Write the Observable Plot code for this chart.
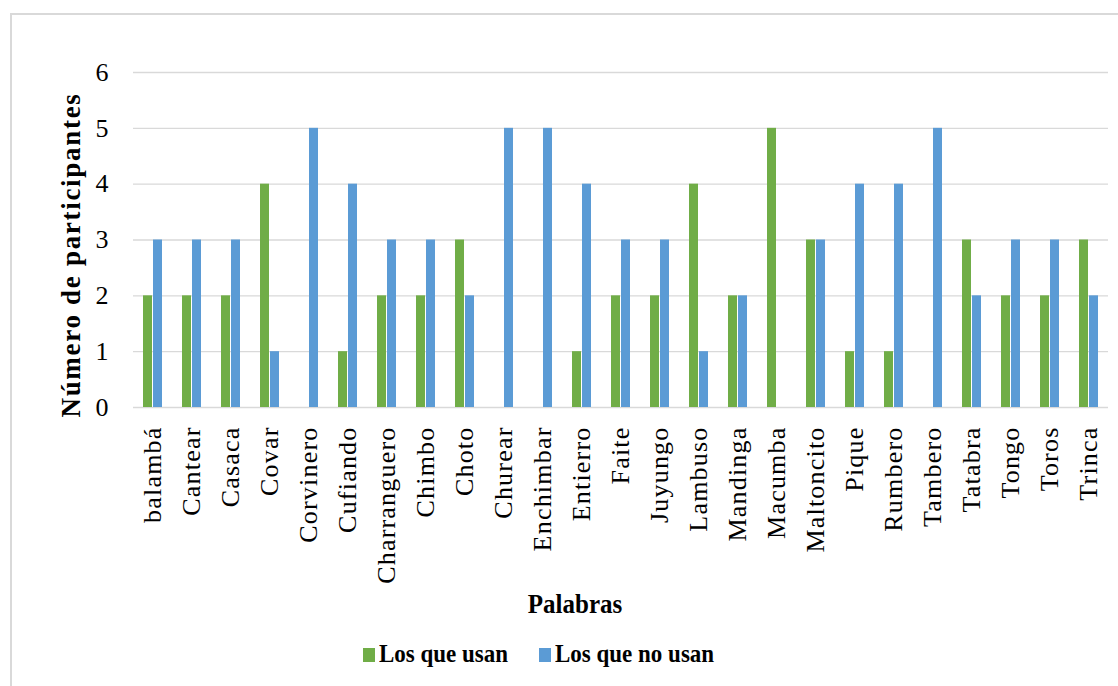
<!DOCTYPE html>
<html>
<head>
<meta charset="utf-8">
<script src="https://cdn.jsdelivr.net/npm/d3@7"></script>
<script src="https://cdn.jsdelivr.net/npm/@observablehq/plot@0.6"></script>
<style>
  body { margin: 0; background: #fff; font-family: "Liberation Serif", "Times New Roman", serif; color: #000; }
  #wrap { position: relative; width: 1118px; height: 686px; overflow: hidden; }
  #frame { position: absolute; left: 10px; top: 13px; width: 1130px; height: 700px;
           border-left: 2px solid #d9d9d9; border-top: 2px solid #d9d9d9; }
  #chart { position: absolute; left: 0; top: 0; }
  #ytitle { position: absolute; left: 71px; top: 255px; transform: translate(-50%, -50%) rotate(-90deg);
            font-weight: bold; font-size: 27px; letter-spacing: 1.7px; white-space: nowrap; }
  #xtitle { position: absolute; left: 575px; top: 591px; transform: translateX(-50%) scaleY(1.12);
            font-weight: bold; font-size: 25px; line-height: 25px; white-space: nowrap; }
  .leg { position: absolute; top: 643px; font-weight: bold; font-size: 23px; line-height: 23px; white-space: nowrap; }
  .sw { position: absolute; top: 5px; left: 0; width: 12px; height: 14px; }
  .leg span.t { position: absolute; left: 16px; top: 0; transform: scaleY(1.12); transform-origin: 0 70%; }
  g[aria-label="fx-axis tick label"] text { letter-spacing: 1.2px; }
</style>
</head>
<body>
<div id="wrap">
  <div id="frame"></div>
  <div id="chart"></div>
  <div id="ytitle"></div>
  <div id="xtitle"></div>
  <div id="leg1" class="leg"></div>
  <div id="leg2" class="leg"></div>
</div>
<script>
const words = ["balambá","Cantear","Casaca","Covar","Corvinero","Cufiando","Charranguero","Chimbo","Choto","Churear","Enchimbar","Entierro","Faite","Juyungo","Lambuso","Mandinga","Macumba","Maltoncito","Pique","Rumbero","Tambero","Tatabra","Tongo","Toros","Trinca"];
const usan    = [2,2,2,4,0,1,2,2,3,0,0,1,2,2,4,2,5,3,1,1,0,3,2,2,3];
const noUsan  = [3,3,3,1,5,4,3,3,2,5,5,4,3,3,1,2,0,3,4,4,5,2,3,3,2];
const seriesNames = ["Los que usan", "Los que no usan"];
const colors = ["#70AD47", "#5B9BD5"];
const yTicks = [0,1,2,3,4,5,6];
const yTitle = "Número de participantes";
const xTitle = "Palabras";

const table = words.flatMap((w, i) => [
  {word: w, series: seriesNames[0], value: usan[i]},
  {word: w, series: seriesNames[1], value: noUsan[i]}
]);

const chart = Plot.plot({
  width: 1118,
  height: 600,
  marginLeft: 133,
  marginRight: 10,
  marginTop: 72,
  marginBottom: 193,
  style: {fontFamily: "'Liberation Serif', 'Times New Roman', serif", fontSize: "26px", color: "#000", background: "transparent", overflow: "visible"},
  fx: {domain: words, padding: 0, label: null},
  x: {domain: seriesNames, paddingInner: 0.1, paddingOuter: 1, axis: null},
  y: {domain: [0, 6], label: null},
  color: {domain: seriesNames, range: colors},
  marks: [
    Plot.gridY(yTicks.slice(1), {stroke: "#d9d9d9", strokeOpacity: 1, strokeWidth: 1.4}),
    Plot.ruleY([0], {stroke: "#d9d9d9", strokeWidth: 1.6}),
    Plot.barY(table, {fx: "word", x: "series", y: "value", fill: "series"}),
    Plot.axisY(yTicks, {tickSize: 0, tickPadding: 25, fontSize: 26, tickFormat: d => String(d), label: null}),
    Plot.axisFx({anchor: "bottom", tickRotate: -90, tickSize: 0, tickPadding: 19, fontSize: 26, label: null})
  ]
});
document.getElementById("chart").appendChild(chart);
document.getElementById("ytitle").textContent = yTitle;
document.getElementById("xtitle").textContent = xTitle;

const legPos = [363, 539];
seriesNames.forEach((name, i) => {
  const el = document.getElementById("leg" + (i + 1));
  el.style.left = legPos[i] + "px";
  const sw = document.createElement("span");
  sw.className = "sw";
  sw.style.background = colors[i];
  const t = document.createElement("span");
  t.className = "t";
  t.textContent = name;
  el.appendChild(sw);
  el.appendChild(t);
});
</script>
</body>
</html>
